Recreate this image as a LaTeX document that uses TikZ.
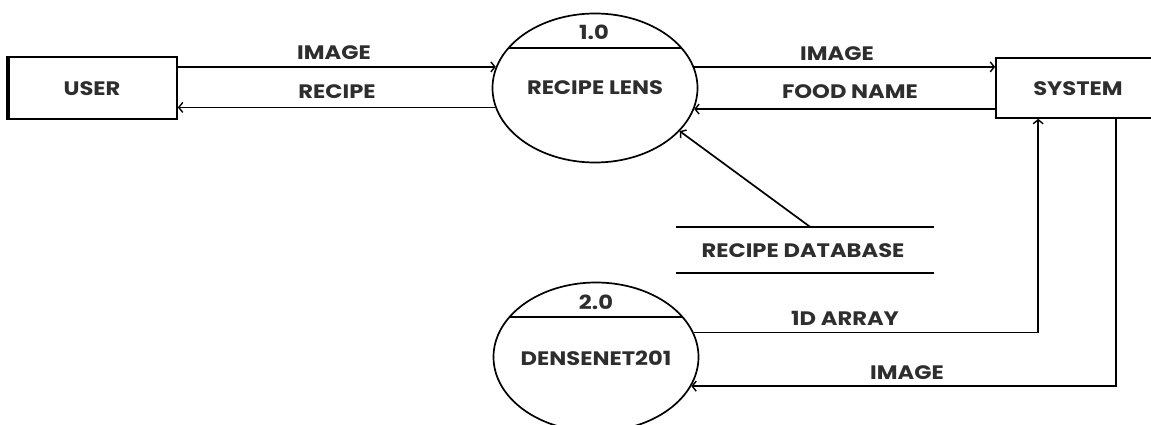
\documentclass[tikz,border=0pt]{standalone}
\usepackage{fontspec}
\setmainfont{Poppins}[FakeStretch=1.16]
\usetikzlibrary{shapes.geometric,arrows.meta,calc}
\begin{document}
\begin{tikzpicture}[x=1pt,y=-1pt,
  every node/.style={font=\fontsize{19.5}{24}\selectfont\bfseries, text=black!82},
  ent/.style={draw, line width=1.7pt, rectangle, inner sep=0pt},
  proc/.style={draw, line width=1.7pt, ellipse, minimum width=205pt, minimum height=149pt, inner sep=0pt},
  flow/.style={draw, line width=1.7pt, -{Straight Barb[length=4pt,width=10pt,line width=1.4pt]}},
  lbl/.style={inner sep=0pt, anchor=center}
]
\useasboundingbox (0,0) rectangle (1151,425);
\clip (0,0) rectangle (1151,425);
% entities
\node[ent, minimum width=168pt, minimum height=62pt] (user) at (93,88) {};
\draw[line width=3.5pt] (user.north west) -- (user.south west);
\node[lbl] (usert) at (92,89) {USER};
\node[ent, minimum width=170pt, minimum height=60pt] (sys) at (1081,88) {};
\node[lbl] (syst) at (1078,89) {SYSTEM};
% processes
\node[proc] (p1) at (595,88) {};
\draw[line width=1.7pt] ([shift={(-86.5,-40)}]p1.center) -- ([shift={(86.5,-40)}]p1.center);
\node[lbl] (p1n) at (594,32) {1.0};
\node[lbl] (p1t) at (595,88) {RECIPE LENS};
\node[proc] (p2) at (596,357) {};
\draw[line width=1.7pt] ([shift={(-86.5,-40)}]p2.center) -- ([shift={(86.5,-40)}]p2.center);
\node[lbl] (p2n) at (596,302) {2.0};
\node[lbl] (p2t) at (596,358) {DENSENET201};
% data store
\node[minimum width=258pt, minimum height=46pt, inner sep=0pt] (db) at (805,250) {};
\draw[line width=1.7pt] (db.north west) -- (db.north east);
\draw[line width=1.7pt] (db.south west) -- (db.south east);
\node[lbl] (dbt) at (803,251) {RECIPE DATABASE};
% flows
\draw[flow] (user.east |- p1.168.5) -- (p1.168.5);
\draw[flow] (p1.191.5) -- (user.east |- p1.191.5);
\draw[flow] (p1.12) -- (p1.12 -| sys.west);
\draw[flow] (sys.west |- p1.-12) -- (p1.-12);
\draw[flow] ([xshift=5pt]db.north) -- (p1.-27);
\draw[flow] (p2.14) -| ([xshift=43pt]sys.south west);
\draw[flow] ([xshift=121pt]sys.south west) |- (p2.-17);
% labels
\node[lbl] (l1) at (334,53) {IMAGE};
\node[lbl] (l2) at (337,92) {RECIPE};
\node[lbl] (l3) at (837,54) {IMAGE};
\node[lbl] (l4) at (850,92) {FOOD NAME};
\node[lbl] (l5) at (845,318) {1D ARRAY};
\node[lbl] (l6) at (907,373) {IMAGE};
\end{tikzpicture}
\end{document}
